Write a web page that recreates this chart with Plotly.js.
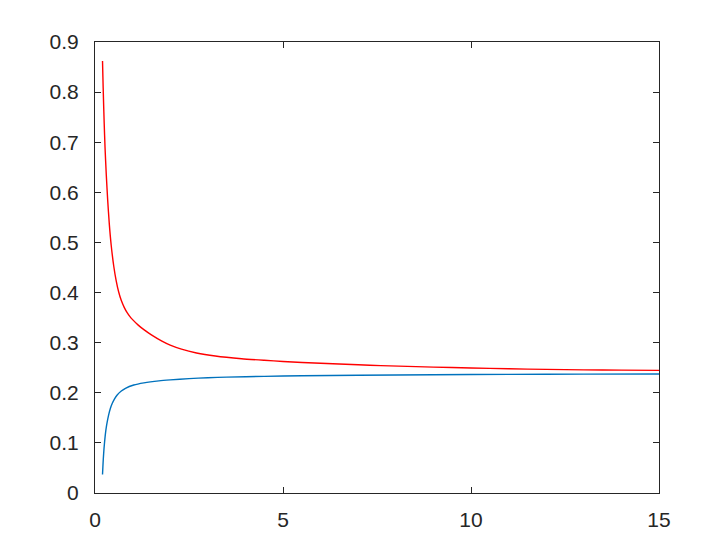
<!DOCTYPE html>
<html>
<head>
<meta charset="utf-8">
<script src="https://cdn.plot.ly/plotly-3.0.1.min.js"></script>
<style>html,body{margin:0;padding:0;background:#fff;}#chart{width:728px;height:554px;}</style>
</head>
<body>
<div id="chart"></div>
<script>
const redX = [0.2, 0.21, 0.225, 0.245, 0.266, 0.3, 0.337, 0.38, 0.43, 0.5, 0.56, 0.63, 0.7, 0.78, 0.855, 0.93, 1.0, 1.15, 1.3, 1.5, 1.78, 2.0, 2.3, 2.7, 3.2, 3.9, 4.5, 5.0, 6.0, 7.0, 7.6, 9.0, 10, 11, 12, 13, 14, 15];
const redY = [0.862, 0.83, 0.787, 0.737, 0.691, 0.635, 0.585, 0.537, 0.495, 0.452, 0.425, 0.401, 0.384, 0.37, 0.36, 0.352, 0.346, 0.335, 0.326, 0.3155, 0.303, 0.295, 0.287, 0.2795, 0.2735, 0.268, 0.2648, 0.2625, 0.2588, 0.2558, 0.2542, 0.2512, 0.2494, 0.2479, 0.2467, 0.2458, 0.2452, 0.2447];
const blueX = [0.2, 0.21, 0.22, 0.24, 0.26, 0.28, 0.3, 0.32, 0.36, 0.41, 0.46, 0.52, 0.59, 0.7, 0.81, 1.03, 1.3, 1.7, 2.0, 2.5, 3.0, 3.5, 4.5, 5.5, 7.0, 9, 11, 13, 15];
const blueY = [0.037, 0.053, 0.067, 0.089, 0.106, 0.12, 0.131, 0.14, 0.155, 0.169, 0.179, 0.188, 0.1955, 0.2035, 0.209, 0.2155, 0.2198, 0.2238, 0.2258, 0.2283, 0.23, 0.2312, 0.2328, 0.2339, 0.235, 0.236, 0.2367, 0.2372, 0.2376];
const xTicks = [0, 5, 10, 15];
const yTicks = [0, 0.1, 0.2, 0.3, 0.4, 0.5, 0.6, 0.7, 0.8, 0.9];

const axisCommon = {
  showgrid: false, zeroline: false, showline: true, linecolor: '#262626', linewidth: 1,
  ticks: 'inside', ticklen: 6, tickcolor: '#262626', tickwidth: 1, mirror: 'ticks',
  tickfont: {family: 'Liberation Sans, Arial, sans-serif', size: 21, color: '#262626'}
};

const data = [
  {x: blueX, y: blueY, type: 'scatter', mode: 'lines', line: {color: '#0072bd', width: 1.4, shape: 'spline', smoothing: 0.6}, hoverinfo: 'none'},
  {x: redX, y: redY, type: 'scatter', mode: 'lines', line: {color: '#ff0000', width: 1.4, shape: 'spline', smoothing: 0.6}, hoverinfo: 'none'}
];

const layout = {
  width: 728, height: 554,
  margin: {l: 94.5, r: 69, t: 42, b: 61, pad: 0},
  paper_bgcolor: '#fff', plot_bgcolor: '#fff',
  showlegend: false,
  xaxis: Object.assign({}, axisCommon, {range: [0, 15], tickvals: xTicks, ticktext: xTicks.map(String), ticklabelstandoff: 8}),
  yaxis: Object.assign({}, axisCommon, {range: [0, 0.9], tickvals: yTicks, ticktext: yTicks.map(v => String(v)), ticklabelstandoff: 11})
};

Plotly.newPlot('chart', data, layout, {displayModeBar: false, staticPlot: true});
</script>
</body>
</html>
